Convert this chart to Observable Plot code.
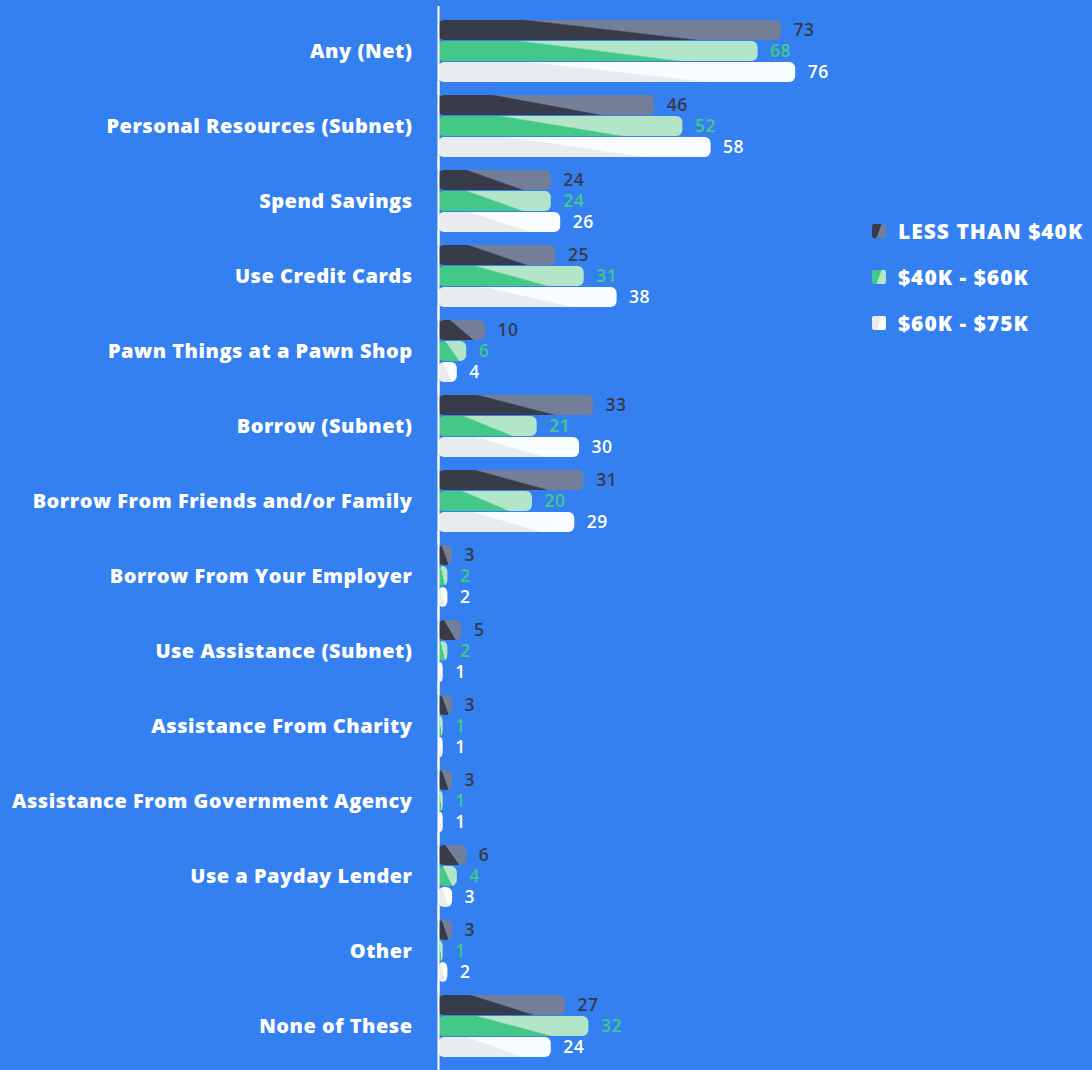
<!DOCTYPE html>
<html>
<head>
<meta charset="utf-8">
<script src="https://cdn.jsdelivr.net/npm/d3@7"></script>
<script src="https://cdn.jsdelivr.net/npm/@observablehq/plot@0.6"></script>
<style>
  html, body { margin: 0; padding: 0; background: #3480F0; }
  #wrap { position: relative; width: 1092px; height: 1070px; overflow: hidden; }
  #legend { position: absolute; left: 872px; top: 218px; font-family: "Open Sans", sans-serif; font-weight: 800; font-size: 21px; letter-spacing: 1px; color: white; }
  .row { display: flex; align-items: center; height: 26px; margin-bottom: 20px; white-space: nowrap; }
  .sw { width: 14px; height: 14px; border-radius: 2px; margin-right: 12px; }
</style>
</head>
<body>
<div id="wrap"><div id="legend"></div></div>
<script>
const categories = [
  "Any (Net)",
  "Personal Resources (Subnet)",
  "Spend Savings",
  "Use Credit Cards",
  "Pawn Things at a Pawn Shop",
  "Borrow (Subnet)",
  "Borrow From Friends and/or Family",
  "Borrow From Your Employer",
  "Use Assistance (Subnet)",
  "Assistance From Charity",
  "Assistance From Government Agency",
  "Use a Payday Lender",
  "Other",
  "None of These"
];
const seriesNames = ["LESS THAN $40K", "$40K - $60K", "$60K - $75K"];
const lessThan40k = [73, 46, 24, 25, 10, 33, 31, 3, 5, 3, 3, 6, 3, 27];
const from40to60k = [68, 52, 24, 31, 6, 21, 20, 2, 2, 1, 1, 4, 1, 32];
const from60to75k = [76, 58, 26, 38, 4, 30, 29, 2, 1, 1, 1, 3, 2, 24];

const darkColors = ["#383C4A", "#43C887", "#E9ECEF"];
const lightColors = ["#737E98", "#B3E6C8", "#FAFDFF"];
const labelColors = ["#373B48", "#43C887", "#FFFFFF"];

const seriesValues = [lessThan40k, from40to60k, from60to75k];
const data = categories.flatMap((c, i) =>
  seriesNames.map((s, j) => ({category: c, series: s, idx: j, value: seriesValues[j][i]}))
);

const plot = Plot.plot({
  width: 1092,
  height: 1070,
  marginLeft: 438,
  marginRight: 184,
  marginTop: 19,
  marginBottom: 13,
  style: {background: "transparent", color: "white", fontFamily: "'Open Sans', sans-serif", fontSize: "20px", fontWeight: 800, letterSpacing: "0.5px"},
  x: {domain: [0, 100], axis: null},
  y: {domain: seriesNames, axis: null, paddingInner: 0.05, paddingOuter: 0},
  fy: {domain: categories, label: null, tickSize: 0, tickPadding: 26, paddingInner: 0.174, paddingOuter: 0},
  color: {type: "identity"},
  facet: {data, y: "category"},
  marks: [
    Plot.barX(data, {x: "value", y: "series", fill: d => `url(#grad${d.idx})`, rx: 6}),
    Plot.ruleX([0], {stroke: "white", strokeWidth: 2, insetTop: -14, insetBottom: -13}),
    Plot.text(data, {x: "value", y: "series", text: d => String(d.value), dx: 12, textAnchor: "start",
      fill: d => labelColors[d.idx], fontSize: 17.5, fontWeight: 600, fontFamily: "'Open Sans', sans-serif"})
  ]
});

// gradient definitions for the two-tone bar fill
const ns = "http://www.w3.org/2000/svg";
const defs = document.createElementNS(ns, "defs");
darkColors.forEach((dc, i) => {
  const g = document.createElementNS(ns, "linearGradient");
  g.setAttribute("id", "grad" + i);
  g.setAttribute("x1", "0"); g.setAttribute("y1", "0");
  g.setAttribute("x2", "1"); g.setAttribute("y2", "-0.5");
  [[0, dc], [0.19, dc], [0.22, lightColors[i]], [1, lightColors[i]]].forEach(([o, c]) => {
    const s = document.createElementNS(ns, "stop");
    s.setAttribute("offset", o);
    s.setAttribute("stop-color", c);
    g.appendChild(s);
  });
  defs.appendChild(g);
});
plot.insertBefore(defs, plot.firstChild);
document.getElementById("wrap").insertBefore(plot, document.getElementById("legend"));

const legend = document.getElementById("legend");
seriesNames.forEach((s, i) => {
  const row = document.createElement("div");
  row.className = "row";
  const sw = document.createElement("div");
  sw.className = "sw";
  sw.style.background = `linear-gradient(110deg, ${darkColors[i]} 48%, ${lightColors[i]} 52%)`;
  const t = document.createElement("span");
  t.textContent = s;
  row.appendChild(sw); row.appendChild(t);
  legend.appendChild(row);
});
</script>
</body>
</html>
